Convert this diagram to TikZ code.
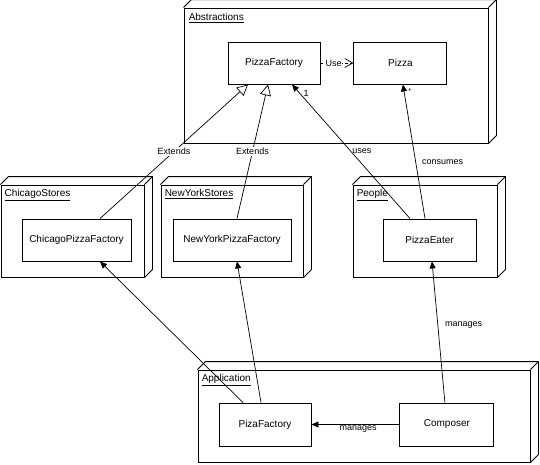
\documentclass[tikz,border=0pt]{standalone}
\usepackage{fontspec}
\setmainfont{Liberation Sans}
\usetikzlibrary{arrows.meta, positioning}

\tikzset{
  package/.style={draw, line width=0.9pt, inner sep=0pt},
  klass/.style={draw, line width=0.9pt, inner sep=0pt, minimum height=42pt,
    font=\fontsize{10}{12}\selectfont},
  pkgtitle/.style={anchor=base west, inner sep=0pt, font=\fontsize{10}{12}\selectfont},
  lbl/.style={font=\fontsize{9}{11}\selectfont, inner sep=1pt},
  extends/.style={-{Triangle[fill=white, length=11pt, width=11pt]}, line width=0.7pt},
  assoc/.style={-{Triangle[length=7pt, width=6pt]}, line width=0.7pt},
  usedep/.style={dash pattern=on 3pt off 2pt, -{Straight Barb[length=8pt, width=9pt]}, line width=0.7pt}
}

% the 3d edges of a package box
\newcommand{\pkgdepth}[1]{%
  \draw[line width=0.9pt] (#1.north west) -- ++(8,-8) -- ([shift={(8,-8)}]#1.north east)
    -- ([shift={(8,-8)}]#1.south east) -- (#1.south east);
  \draw[line width=0.9pt] (#1.north east) -- ++(8,-8);}

\begin{document}
\begin{tikzpicture}[x=1pt, y=-1pt]
  \useasboundingbox (0,0) rectangle (540,464);

  % packages
  \node[package, minimum width=304pt, minimum height=135pt] (abstractions) at (336,75.5) {};
  \node[package, minimum width=143pt, minimum height=92pt] (chicago) at (72.5,231) {};
  \node[package, minimum width=142pt, minimum height=92pt] (newyork) at (232,231) {};
  \node[package, minimum width=144pt, minimum height=92pt] (people) at (425,231) {};
  \node[package, minimum width=332pt, minimum height=92pt] (application) at (364,416) {};

  \foreach \p in {abstractions, chicago, newyork, people, application}
    \pkgdepth{\p};

  \node[pkgtitle] (abstitle) at ([shift={(5,13)}]abstractions.north west) {\underline{Abstractions}};
  \node[pkgtitle] (chititle) at ([shift={(4,12)}]chicago.north west) {\underline{ChicagoStores}};
  \node[pkgtitle] (nytitle) at ([shift={(4,12)}]newyork.north west) {\underline{NewYorkStores}};
  \node[pkgtitle] (ppltitle) at ([shift={(4,12)}]people.north west) {\underline{People}};
  \node[pkgtitle] (apptitle) at ([shift={(4,12)}]application.north west) {\underline{Application}};

  % classes
  \node[klass, minimum width=92pt] (pizzafactory) at (274,63) {PizzaFactory};
  \node[klass, minimum width=93pt, right=33pt of pizzafactory] (pizza) {Pizza};
  \node[klass, minimum width=109pt] (chicagofactory) at (76.5,240) {ChicagoPizzaFactory};
  \node[klass, minimum width=118pt] (newyorkfactory) at (232,240) {NewYorkPizzaFactory};
  \node[klass, minimum width=93pt] (pizzaeater) at (429.5,240) {PizzaEater};
  \node[klass, minimum width=92pt, minimum height=43pt] (appfactory) at (265,424.5) {PizaFactory};
  \node[klass, minimum width=94pt, minimum height=43pt, right=88pt of appfactory] (composer) {Composer};

  % connectors
  \draw[usedep] (pizzafactory.east) -- node[lbl, pos=0.4, fill=white, inner sep=0.5pt] {Use} (pizza.west);
  \draw[extends] ([xshift=23.5pt]chicagofactory.north) -- node[lbl, fill=white] {Extends}
    ([xshift=-26pt]pizzafactory.south);
  \draw[extends] ([xshift=5pt]newyorkfactory.north) -- node[lbl, fill=white] {Extends}
    ([xshift=-6pt]pizzafactory.south);
  \draw[assoc] ([xshift=-19.5pt]pizzaeater.north) -- node[lbl, right] {uses}
    node[lbl, pos=0.93, right=2pt] {1} ([xshift=18pt]pizzafactory.south);
  \draw[assoc] ([xshift=-4.5pt]pizzaeater.north) -- node[lbl, pos=0.42, right=5pt] {consumes}
    node[lbl, pos=0.95, right=3pt, font=\fontsize{7}{8}\selectfont] {*} ([xshift=2.5pt]pizza.south);
  \draw[assoc] ([xshift=-22pt]appfactory.north) -- ([xshift=23.5pt]chicagofactory.south);
  \draw[assoc] ([xshift=-4pt]appfactory.north) -- ([xshift=5pt]newyorkfactory.south);
  \draw[assoc] ([xshift=-2pt]composer.north) -- node[lbl, pos=0.55, right=6pt] {manages}
    ([xshift=2.5pt]pizzaeater.south);
  \draw[assoc] (composer.west) -- node[lbl, pos=0.47, below] {manages} (appfactory.east);
\end{tikzpicture}
\end{document}
